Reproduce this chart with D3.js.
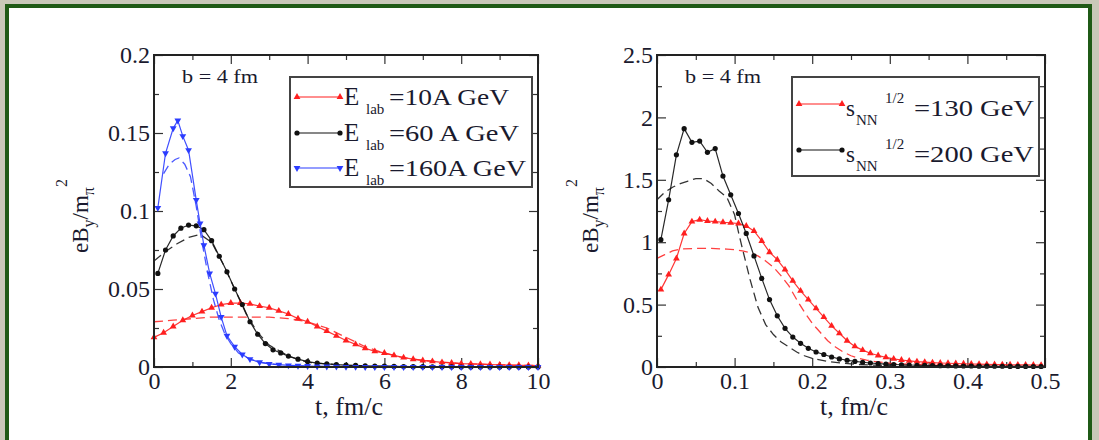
<!DOCTYPE html>
<html>
<head>
<meta charset="utf-8">
<script src="https://cdn.jsdelivr.net/npm/d3@7"></script>
<style>
body { margin: 0; background: #c9c8b9; }
svg { display: block; }
text { font-family: "Liberation Serif", "Times New Roman", serif; fill: #1a1a2e; }
</style>
</head>
<body>
<svg width="1099" height="440"></svg>
<script>
var svg = d3.select('svg');

// ---- left panel: E_lab = 10, 60, 160 A GeV ----
var elabNames = ['=10A GeV', '=60 A GeV', '=160A GeV'];

var e10T = [0,0.25,0.5,0.75,1,1.25,1.5,1.75,2,2.25,2.5,2.75,3,3.25,3.5,3.75,4,4.25,4.5,4.75,5,5.25,5.5,5.75,6,6.25,6.5,6.75,7,7.25,7.5,7.75,8,8.25,8.5,8.75,9,9.25,9.5,9.75,10];
var e10Solid = [0.019,0.022,0.026,0.030,0.033,0.0355,0.038,0.040,0.041,0.041,0.0405,0.039,0.038,0.036,0.034,0.031,0.029,0.026,0.023,0.020,0.017,0.0145,0.012,0.010,0.009,0.0075,0.006,0.005,0.0042,0.0036,0.003,0.0026,0.0022,0.002,0.0018,0.0016,0.0014,0.0012,0.0011,0.001,0.0009];
var e10DashT = [0,0.5,1,1.5,2,2.5,3,3.5,4,4.5,5,5.5,6,6.5,7,8,9,10];
var e10Dash = [0.029,0.030,0.031,0.032,0.032,0.032,0.032,0.031,0.029,0.025,0.019,0.013,0.0088,0.006,0.0042,0.0022,0.0014,0.0009];

var e60T = [0.1,0.3,0.5,0.7,0.9,1.1,1.3,1.5,1.7,1.9,2.1,2.3,2.5,2.7,2.9,3.1,3.3,3.5,3.75,4,4.25,4.5,4.75,5,5.25,5.5,5.75,6,6.25,6.5,6.75,7,7.25,7.5,7.75,8,8.25,8.5,8.75,9,9.25,9.5,9.75,10];
var e60Solid = [0.060,0.075,0.084,0.089,0.091,0.0905,0.088,0.081,0.071,0.061,0.050,0.040,0.029,0.021,0.015,0.011,0.009,0.007,0.005,0.0035,0.0025,0.002,0.0015,0.0012,0.001,0.0008,0.0006,0.0005,0.0004,0.0003,0.0002,0.0002,0.0001,0.0001,0.0001,0,0,0,0,0,0,0,0,0];
var e60DashT = [0,0.3,0.6,0.9,1.2,1.5,1.8,2.1,2.4,2.7,3,3.5,4,5,6,8,10];
var e60Dash = [0.068,0.074,0.079,0.083,0.085,0.080,0.066,0.050,0.034,0.022,0.014,0.007,0.003,0.001,0.0004,0,0];

var e160T = [0.1,0.3,0.5,0.62,0.75,0.9,1.1,1.2,1.3,1.45,1.6,1.75,1.9,2.1,2.3,2.5,2.75,3,3.25,3.5,3.75,4,4.25,4.5,4.75,5,5.25,5.5,5.75,6,6.25,6.5,6.75,7,7.25,7.5,7.75,8,8.25,8.5,8.75,9,9.25,9.5,9.75,10];
var e160Solid = [0.102,0.137,0.153,0.158,0.148,0.139,0.107,0.092,0.078,0.060,0.047,0.032,0.020,0.013,0.008,0.005,0.003,0.002,0.0015,0.001,0.0008,0.0006,0.0004,0.0003,0.0002,0.0001,0.0001,0,0,0,0,0,0,0,0,0,0,0,0,0,0,0,0,0,0,0];
var e160DashT = [0.25,0.4,0.55,0.65,0.8,0.95,1.1,1.25,1.4,1.55,1.7,1.85,2,2.2,2.5,2.8,3.2,3.6,4,5,6,8,10];
var e160Dash = [0.124,0.130,0.133,0.134,0.130,0.122,0.103,0.080,0.060,0.043,0.030,0.021,0.015,0.009,0.005,0.003,0.0015,0.001,0.0005,0.0002,0.0001,0,0];

// ---- right panel: sqrt(s_NN) = 130, 200 GeV ----
var snnNames = ['=130 GeV', '=200 GeV'];

var rhicT = [0.005,0.015,0.025,0.035,0.045,0.055,0.065,0.075,0.085,0.095,0.105,0.115,0.125,0.135,0.145,0.155,0.165,0.175,0.185,0.195,0.205,0.215,0.225,0.235,0.245,0.255,0.265,0.275,0.285,0.295,0.305,0.315,0.325,0.335,0.345,0.355,0.365,0.375,0.385,0.395,0.405,0.415,0.425,0.435,0.445,0.455,0.465,0.475,0.485,0.495];
var s130Solid = [0.62,0.74,0.87,1.07,1.165,1.18,1.17,1.165,1.16,1.155,1.15,1.13,1.09,1.01,0.92,0.86,0.78,0.69,0.61,0.54,0.47,0.40,0.33,0.27,0.21,0.165,0.135,0.11,0.092,0.077,0.065,0.056,0.049,0.043,0.039,0.035,0.032,0.03,0.028,0.026,0.024,0.023,0.021,0.02,0.019,0.018,0.017,0.017,0.016,0.015];
var s200Solid = [1.02,1.34,1.70,1.91,1.80,1.81,1.72,1.75,1.53,1.38,1.23,1.07,0.89,0.71,0.54,0.41,0.31,0.24,0.19,0.15,0.12,0.10,0.08,0.065,0.054,0.045,0.038,0.032,0.027,0.023,0.02,0.018,0.016,0.014,0.013,0.012,0.011,0.01,0.009,0.008,0.008,0.007,0.007,0.006,0.006,0.005,0.005,0.005,0.004,0.004];
var s130DashT = [0,0.01,0.02,0.03,0.05,0.07,0.09,0.1,0.11,0.12,0.13,0.14,0.15,0.16,0.17,0.18,0.19,0.2,0.21,0.22,0.23,0.24,0.25,0.26,0.27,0.28,0.3,0.35,0.4,0.5];
var s130Dash = [0.87,0.90,0.93,0.945,0.95,0.95,0.945,0.94,0.93,0.915,0.89,0.85,0.80,0.73,0.65,0.54,0.44,0.35,0.28,0.21,0.16,0.12,0.09,0.07,0.055,0.045,0.03,0.015,0.008,0.003];
var s200DashT = [0,0.01,0.02,0.03,0.04,0.05,0.06,0.07,0.08,0.09,0.1,0.105,0.11,0.12,0.13,0.14,0.15,0.16,0.17,0.18,0.19,0.2,0.22,0.24,0.26,0.3,0.35,0.4,0.5];
var s200Dash = [1.34,1.40,1.44,1.47,1.49,1.51,1.51,1.47,1.41,1.36,1.22,1.08,0.95,0.70,0.48,0.34,0.26,0.20,0.16,0.12,0.09,0.07,0.045,0.03,0.02,0.01,0.005,0.003,0.001];

// ---- ticks ----
var leftXTicks = [0,2,4,6,8,10], leftXMinor = [1,3,5,7,9];
var leftYTicks = [0,0.05,0.1,0.15,0.2], leftYMinor = [0.025,0.075,0.125,0.175];
var rightXTicks = [0,0.1,0.2,0.3,0.4,0.5], rightXMinor = [0.05,0.15,0.25,0.35,0.45];
var rightYTicks = [0,0.5,1,1.5,2,2.5], rightYMinor = [0.25,0.75,1.25,1.75,2.25];

var RED = '#ff1f1f', BLACK = '#111111', BLUE = '#2b3cff';

// page frame
svg.append('rect').attr('x', 9).attr('y', 8).attr('width', 1079).attr('height', 440).attr('fill', '#ffffff');
svg.append('rect').attr('x', 7).attr('y', 6).attr('width', 1083).attr('height', 450)
    .attr('fill', 'none').attr('stroke', '#1f5a16').attr('stroke-width', 4);

var plotTop = 55, plotBottom = 367;

function marker(sel, shape, color) {
    if (shape === 'circle') {
        sel.append('circle').attr('r', 2.6).attr('fill', color);
    } else {
        sel.append('path')
            .attr('d', d3.symbol().type(d3.symbolTriangle).size(20))
            .attr('transform', shape === 'down' ? 'rotate(180)' : null)
            .attr('fill', color);
    }
}

function drawPanel(o) {
    var x = d3.scaleLinear().domain(o.xDomain).range([o.x0, o.x1]);
    var y = d3.scaleLinear().domain(o.yDomain).range([plotBottom, plotTop]);
    var g = svg.append('g');

    function axisGroup(axis, tx, ty) {
        var a = g.append('g').attr('transform', 'translate(' + tx + ',' + ty + ')').call(axis);
        a.select('.domain').remove();
        a.selectAll('line').attr('stroke', '#333').attr('stroke-width', 1.2);
        a.selectAll('text').style('font-size', '24px').attr('fill', '#1a1a2e')
            .style('font-family', '"Liberation Serif", serif');
        return a;
    }
    var fmt = function(d) { return String(d); };
    axisGroup(d3.axisBottom(x).tickValues(o.xTicks).tickSize(-9).tickPadding(5).tickFormat(fmt), 0, plotBottom);
    axisGroup(d3.axisBottom(x).tickValues(o.xMinor).tickSize(-5).tickFormat(''), 0, plotBottom);
    axisGroup(d3.axisTop(x).tickValues(o.xTicks).tickSize(-9).tickFormat(''), 0, plotTop);
    axisGroup(d3.axisTop(x).tickValues(o.xMinor).tickSize(-5).tickFormat(''), 0, plotTop);
    axisGroup(d3.axisLeft(y).tickValues(o.yTicks).tickSize(-9).tickPadding(4).tickFormat(fmt), o.x0, 0);
    axisGroup(d3.axisLeft(y).tickValues(o.yMinor).tickSize(-5).tickFormat(''), o.x0, 0);
    axisGroup(d3.axisRight(y).tickValues(o.yTicks).tickSize(-9).tickFormat(''), o.x1, 0);
    axisGroup(d3.axisRight(y).tickValues(o.yMinor).tickSize(-5).tickFormat(''), o.x1, 0);

    var line = d3.line().x(function(d) { return x(d[0]); }).y(function(d) { return y(d[1]); });

    o.series.forEach(function(s) {
        // dashed companion curve
        g.append('path').datum(d3.zip(s.dashT, s.dash))
            .attr('d', line).attr('fill', 'none').attr('stroke', s.color)
            .attr('stroke-width', 1.3).attr('stroke-dasharray', '9,5').attr('opacity', 0.85);
    });
    o.series.forEach(function(s) {
        var pts = d3.zip(s.t, s.v);
        g.append('path').datum(pts)
            .attr('d', line).attr('fill', 'none').attr('stroke', s.color)
            .attr('stroke-width', 1.2).attr('opacity', 0.9);
        g.selectAll(null).data(pts).enter().append('g')
            .attr('transform', function(d) { return 'translate(' + x(d[0]) + ',' + y(d[1]) + ')'; })
            .each(function() { marker(d3.select(this), s.shape, s.color); });
    });

    // axes frame
    g.append('rect').attr('x', o.x0).attr('y', plotTop)
        .attr('width', o.x1 - o.x0).attr('height', plotBottom - plotTop)
        .attr('fill', 'none').attr('stroke', '#222').attr('stroke-width', 2);

    // b = 4 fm
    g.append('text').attr('x', o.x0 + 28).attr('y', 83)
        .attr('textLength', 76).attr('lengthAdjust', 'spacingAndGlyphs')
        .style('font-size', '19px').text('b = 4 fm');

    // x title
    g.append('text').attr('x', (o.x0 + o.x1) / 2 + 3).attr('y', 415).attr('text-anchor', 'middle')
        .style('font-size', '26px').text('t, fm/c');

    // y title  eB_y / m_pi ^2
    var yt = g.append('text')
        .attr('transform', 'translate(' + o.yTitleX + ',216) rotate(-90)')
        .attr('text-anchor', 'middle').style('font-size', '23px');
    yt.append('tspan').text('eB');
    yt.append('tspan').attr('dy', 6).style('font-size', '16px').text('y');
    yt.append('tspan').attr('dy', -6).text('/m');
    yt.append('tspan').attr('dy', 6).style('font-size', '16px').text('\u03c0');
    yt.append('tspan').attr('dy', -27).style('font-size', '16px').text('2');

    // legend
    var L = o.legend;
    g.append('rect').attr('x', L.x).attr('y', L.y).attr('width', L.w).attr('height', L.h)
        .attr('fill', '#fff').attr('stroke', '#444').attr('stroke-width', 2);
    o.series.forEach(function(s, i) {
        var ry = L.rowY[i];
        g.append('line').attr('x1', L.x + 7).attr('x2', L.x + 50).attr('y1', ry).attr('y2', ry)
            .attr('stroke', s.color).attr('stroke-width', 1.2);
        [L.x + 7, L.x + 50].forEach(function(mx) {
            var m = g.append('g').attr('transform', 'translate(' + mx + ',' + ry + ')');
            marker(m, s.shape, s.color);
        });
        L.label(g, s, ry);
    });
}

drawPanel({
    x0: 154, x1: 538, xDomain: [0, 10], yDomain: [0, 0.2],
    xTicks: leftXTicks, xMinor: leftXMinor, yTicks: leftYTicks, yMinor: leftYMinor,
    yTitleX: 88,
    series: [
        { t: e10T, v: e10Solid, dashT: e10DashT, dash: e10Dash, color: RED, shape: 'up', name: elabNames[0], w: 120 },
        { t: e60T, v: e60Solid, dashT: e60DashT, dash: e60Dash, color: BLACK, shape: 'circle', name: elabNames[1], w: 130 },
        { t: e160T, v: e160Solid, dashT: e160DashT, dash: e160Dash, color: BLUE, shape: 'down', name: elabNames[2], w: 137 }
    ],
    legend: {
        x: 290, y: 77, w: 242, h: 110, rowY: [97, 133, 168],
        label: function(g, s, ry) {
            g.append('text').attr('x', 344).attr('y', ry + 8).style('font-size', '25px').text('E');
            g.append('text').attr('x', 366).attr('y', ry + 17).style('font-size', '15px').text('lab');
            g.append('text').attr('x', 389).attr('y', ry + 8).style('font-size', '23px')
                .attr('textLength', s.w).attr('lengthAdjust', 'spacingAndGlyphs').text(s.name);
        }
    }
});

drawPanel({
    x0: 657, x1: 1045, xDomain: [0, 0.5], yDomain: [0, 2.5],
    xTicks: rightXTicks, xMinor: rightXMinor, yTicks: rightYTicks, yMinor: rightYMinor,
    yTitleX: 598,
    series: [
        { t: rhicT, v: s130Solid, dashT: s130DashT, dash: s130Dash, color: RED, shape: 'up', name: snnNames[0] },
        { t: rhicT, v: s200Solid, dashT: s200DashT, dash: s200Dash, color: BLACK, shape: 'circle', name: snnNames[1] }
    ],
    legend: {
        x: 792, y: 77, w: 247, h: 99, rowY: [104, 150],
        label: function(g, s, ry) {
            g.append('text').attr('x', 846).attr('y', ry + 12).style('font-size', '23px').text('s');
            g.append('text').attr('x', 856).attr('y', ry + 21).style('font-size', '15px').text('NN');
            g.append('text').attr('x', 885).attr('y', ry - 1).style('font-size', '15px').text('1/2');
            g.append('text').attr('x', 914).attr('y', ry + 12).style('font-size', '23px')
                .attr('textLength', 120).attr('lengthAdjust', 'spacingAndGlyphs').text(s.name);
        }
    }
});
</script>
</body>
</html>
